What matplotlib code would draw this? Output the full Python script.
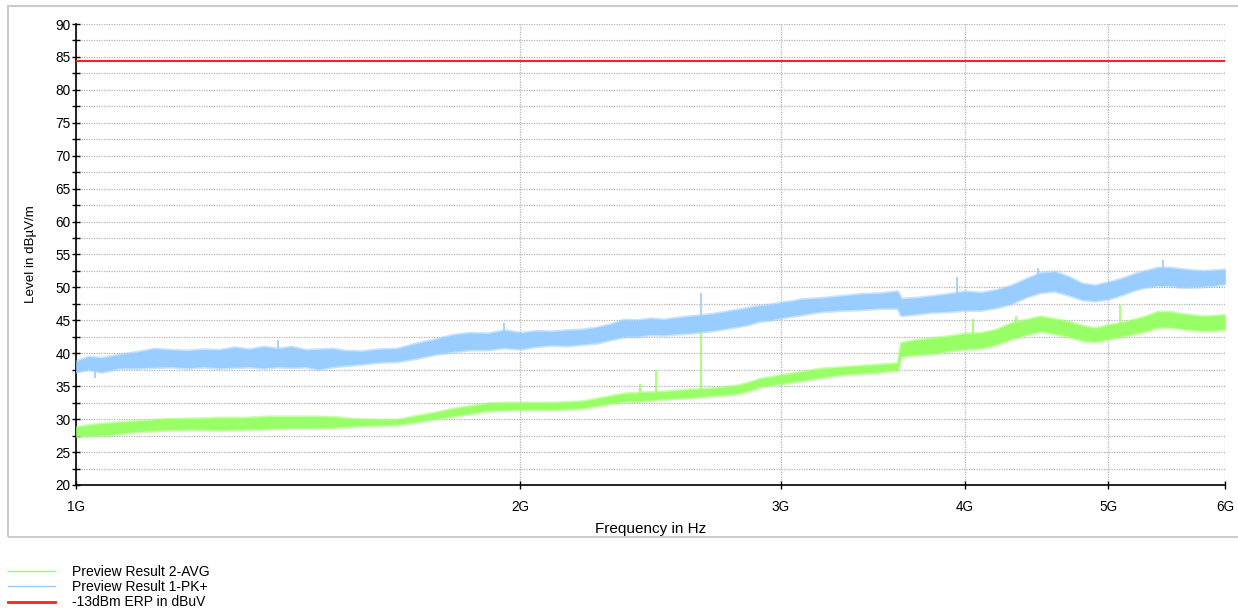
import numpy as np
import matplotlib
matplotlib.use('Agg')
import matplotlib.pyplot as plt
from matplotlib.patches import Rectangle
from matplotlib.lines import Line2D

plt.rcParams['font.family'] = ['Liberation Sans', 'DejaVu Sans']
plt.rcParams['font.size'] = 9.4

# Peak detector trace (GHz, lower / upper envelope in dBuV/m)
pk_freq = [1.00, 1.02, 1.04, 1.07, 1.10, 1.13, 1.16, 1.19, 1.22, 1.25, 1.28, 1.31, 1.34, 1.37,
           1.40, 1.43, 1.46, 1.49, 1.52, 1.56, 1.60, 1.65, 1.70, 1.75, 1.80, 1.85, 1.90, 1.95,
           2.00, 2.05, 2.10, 2.15, 2.20, 2.25, 2.30, 2.35, 2.40, 2.45, 2.50, 2.55, 2.60, 2.65,
           2.70, 2.75, 2.80, 2.85, 2.90, 2.95, 3.00, 3.05, 3.10, 3.15, 3.20, 3.30, 3.40, 3.50,
           3.60, 3.62, 3.70, 3.80, 3.90, 4.00, 4.10, 4.20, 4.30, 4.40, 4.50, 4.60, 4.70, 4.80,
           4.90, 5.00, 5.10, 5.20, 5.30, 5.40, 5.50, 5.60, 5.70, 5.80, 5.90, 6.00]
pk_lo = [37.2, 37.6, 37.2, 37.8, 37.8, 37.9, 38.0, 37.8, 38.0, 37.8, 37.9, 38.0, 37.8, 38.0,
         37.9, 38.0, 37.6, 38.0, 38.2, 38.4, 38.7, 38.8, 39.3, 39.9, 40.3, 40.6, 40.6, 40.9,
         40.7, 41.1, 41.3, 41.2, 41.4, 41.6, 42.1, 42.6, 42.6, 42.9, 42.8, 43.0, 43.1, 43.3,
         43.5, 43.8, 44.1, 44.4, 44.9, 45.1, 45.4, 45.7, 45.9, 46.2, 46.4, 46.6, 46.7, 46.9,
         46.9, 45.8, 46.0, 46.3, 46.4, 46.6, 46.6, 47.0, 47.6, 48.6, 49.3, 49.5, 48.9, 48.2,
         48.0, 48.3, 48.9, 49.6, 50.1, 50.3, 50.3, 50.1, 50.1, 50.2, 50.3, 50.6]
pk_hi = [38.8, 39.5, 39.3, 39.8, 40.2, 40.7, 40.5, 40.4, 40.6, 40.5, 40.9, 40.6, 41.0, 40.7,
         41.0, 40.5, 40.6, 40.7, 40.4, 40.3, 40.6, 40.7, 41.5, 42.1, 42.8, 43.1, 43.0, 43.5,
         43.1, 43.4, 43.3, 43.5, 43.6, 43.9, 44.4, 45.1, 45.0, 45.3, 45.1, 45.4, 45.6, 45.8,
         46.0, 46.3, 46.6, 46.9, 47.2, 47.4, 47.7, 47.9, 48.2, 48.3, 48.4, 48.7, 49.0, 49.1,
         49.4, 48.3, 48.4, 48.7, 49.0, 49.4, 49.2, 49.6, 50.3, 51.3, 52.2, 52.4, 51.6, 50.6,
         50.3, 50.8, 51.3, 52.0, 52.5, 53.0, 53.0, 52.8, 52.6, 52.5, 52.6, 52.7]
pk_spike_freq = [1.03, 1.37, 1.95, 2.65, 3.95, 4.48, 5.45]
pk_spike_level = [36.3, 42.0, 44.6, 49.2, 51.6, 53.0, 54.2]

# Average detector trace
avg_freq = [1.00, 1.02, 1.05, 1.08, 1.11, 1.15, 1.20, 1.25, 1.30, 1.35, 1.40, 1.45, 1.50, 1.55,
            1.60, 1.65, 1.70, 1.75, 1.80, 1.85, 1.90, 1.95, 2.00, 2.10, 2.20, 2.30, 2.35, 2.40,
            2.45, 2.50, 2.60, 2.70, 2.80, 2.85, 2.90, 2.95, 3.00, 3.10, 3.20, 3.30, 3.40, 3.50,
            3.60, 3.62, 3.70, 3.80, 3.90, 4.00, 4.10, 4.20, 4.30, 4.40, 4.50, 4.60, 4.70, 4.80,
            4.90, 5.00, 5.10, 5.20, 5.30, 5.40, 5.50, 5.60, 5.70, 5.80, 5.90, 6.00]
avg_lo = [27.4, 27.5, 27.6, 28.0, 28.2, 28.4, 28.5, 28.4, 28.5, 28.6, 28.7, 28.7, 28.8, 29.0,
          29.1, 29.2, 29.6, 30.1, 30.5, 30.9, 31.3, 31.4, 31.5, 31.5, 31.7, 32.4, 32.7, 32.8,
          32.9, 33.1, 33.3, 33.6, 33.9, 34.3, 34.9, 35.2, 35.4, 35.9, 36.4, 36.8, 37.0, 37.2,
          37.5, 39.6, 39.8, 40.0, 40.4, 40.7, 40.8, 41.4, 42.2, 42.9, 43.4, 43.0, 42.6, 42.0,
          41.8, 42.2, 42.6, 43.0, 43.4, 44.0, 44.0, 43.8, 43.6, 43.5, 43.5, 43.7]
avg_hi = [28.8, 29.1, 29.4, 29.6, 29.8, 30.0, 30.1, 30.2, 30.2, 30.4, 30.4, 30.4, 30.3, 30.0,
          29.9, 29.9, 30.5, 31.0, 31.6, 32.0, 32.4, 32.5, 32.5, 32.5, 32.7, 33.5, 33.9, 34.0,
          34.1, 34.2, 34.5, 34.7, 35.1, 35.5, 36.1, 36.4, 36.7, 37.2, 37.7, 37.9, 38.1, 38.3,
          38.5, 41.6, 42.0, 42.3, 42.6, 43.0, 43.1, 43.6, 44.6, 45.1, 45.6, 45.2, 44.8, 44.2,
          43.8, 44.3, 44.6, 45.1, 45.6, 46.3, 46.3, 46.0, 45.8, 45.6, 45.7, 45.8]
avg_spike_freq = [2.41, 2.47, 2.65, 4.05, 4.33, 5.09]
avg_spike_level = [35.4, 37.4, 43.4, 45.2, 45.6, 47.3]

limit_level = 84.4

blue = '#99ccff'
green = '#99ff66'
red = '#ff2020'

fig = plt.figure(figsize=(12.38, 6.12), dpi=100)
ax = fig.add_axes([76 / 1238, 1 - 485 / 612, (1225 - 76) / 1238, (485 - 24) / 612])

# Traces: envelope band with a soft edge, plus the spikes sticking out of it
f_pk = np.array(pk_freq) * 1e9
pk_mid = (np.array(pk_lo) + np.array(pk_hi)) / 2
ax.fill_between(f_pk, pk_lo, pk_hi, facecolor=blue, edgecolor=(0.6, 0.8, 1.0, 0.55),
                lw=2.4, zorder=3)
for f, lvl in zip(pk_spike_freq, pk_spike_level):
    ax.vlines(f * 1e9, np.interp(f * 1e9, f_pk, pk_mid), lvl, color=blue, lw=1.2, zorder=3)

f_avg = np.array(avg_freq) * 1e9
avg_mid = (np.array(avg_lo) + np.array(avg_hi)) / 2
ax.fill_between(f_avg, avg_lo, avg_hi, facecolor=green, edgecolor=(0.6, 1.0, 0.4, 0.55),
                lw=2.4, zorder=4)
for f, lvl in zip(avg_spike_freq, avg_spike_level):
    ax.vlines(f * 1e9, np.interp(f * 1e9, f_avg, avg_mid), lvl, color=green, lw=1.2, zorder=4)

ax.axhline(limit_level, color=red, lw=1.5, zorder=5)

# Axes
ax.set_xscale('log')
ax.set_xlim(1e9, 6e9)
ax.set_ylim(20, 90)
ax.set_xticks([1e9, 2e9, 3e9, 4e9, 5e9, 6e9])
ax.set_xticklabels(['1G', '2G', '3G', '4G', '5G', '6G'])
ax.xaxis.set_minor_locator(matplotlib.ticker.NullLocator())
ax.set_yticks(np.arange(20, 91, 5))
ax.set_yticks(np.arange(22.5, 90, 5), minor=True)
ax.tick_params(axis='both', which='both', direction='inout', length=6, width=1, color='black',
               labelsize=9.8)
ax.tick_params(axis='y', pad=1)
ax.tick_params(axis='x', pad=8)

ax.grid(True, which='both', axis='y', color='#b4b4b4', ls=(0, (1, 1)), lw=0.9, zorder=1)
ax.grid(True, which='major', axis='x', color='#b4b4b4', ls=(0, (1, 1)), lw=0.9, zorder=1)
for s in ['top', 'right']:
    ax.spines[s].set_visible(False)
for s in ['left', 'bottom']:
    ax.spines[s].set_linewidth(1.2)

ax.set_xlabel('Frequency in Hz', fontsize=11)
ax.set_ylabel('Level in dBµV/m', fontsize=9.6)
ax.xaxis.set_label_coords(0.5, -0.081)
ax.yaxis.set_label_coords(-0.034, 0.5)

# Outer frame
fig.add_artist(Rectangle((7.5 / 1238, 1 - 537 / 612), 1.0, (537 - 6) / 612,
                         transform=fig.transFigure, fill=False, edgecolor='#cccccc', lw=1.5))

# Legend below the frame
handles = [Line2D([], [], color=green, lw=1),
           Line2D([], [], color=blue, lw=1),
           Line2D([], [], color=red, lw=2)]
labels = ['Preview Result 2-AVG', 'Preview Result 1-PK+', '-13dBm ERP in dBuV']
fig.legend(handles, labels, loc='upper left', bbox_to_anchor=(3 / 1238, 1 - 560 / 612),
           frameon=False, handlelength=3.4, handletextpad=1.2, labelspacing=0.09,
           borderaxespad=0, borderpad=0.35, fontsize=10)

plt.savefig('out.png', dpi=100)
